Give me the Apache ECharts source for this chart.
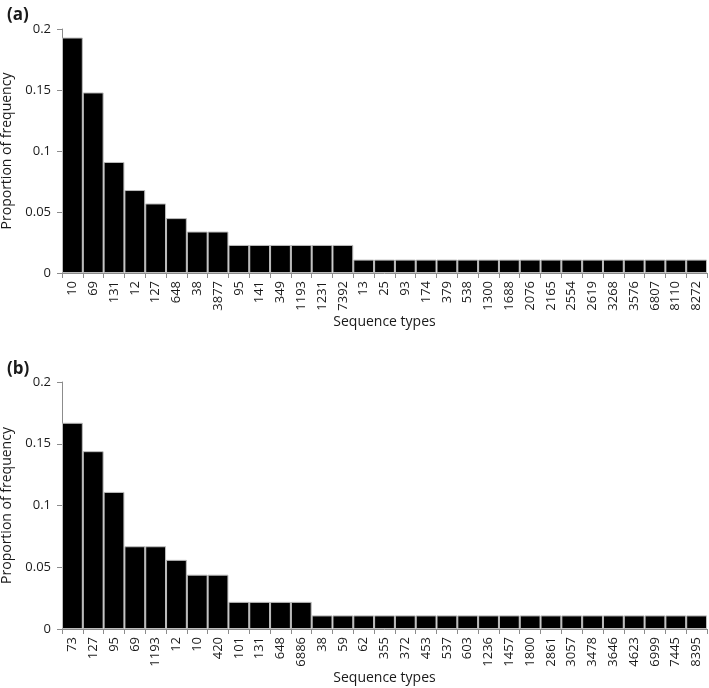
<!DOCTYPE html>
<html>
<head>
<meta charset="utf-8">
<script src="https://cdn.jsdelivr.net/npm/echarts@6/dist/echarts.min.js"></script>
<style>
html, body { margin: 0; padding: 0; background: #fff; }
#main { width: 709px; height: 688px; }
</style>
</head>
<body>
<div id="main"></div>
<script>
// panel (a)
var typesA = ['10', '69', '131', '12', '127', '648', '38', '3877', '95', '141', '349', '1193', '1231', '7392',
    '13', '25', '93', '174', '379', '538', '1300', '1688', '2076', '2165', '2554', '2619', '3268', '3576', '6807', '8110', '8272'];
var propA = [0.193, 0.148, 0.091, 0.068, 0.057, 0.045, 0.034, 0.034, 0.023, 0.023, 0.023, 0.023, 0.023, 0.023,
    0.011, 0.011, 0.011, 0.011, 0.011, 0.011, 0.011, 0.011, 0.011, 0.011, 0.011, 0.011, 0.011, 0.011, 0.011, 0.011, 0.011];

// panel (b)
var typesB = ['73', '127', '95', '69', '1193', '12', '10', '420', '101', '131', '648', '6886', '38', '59', '62',
    '355', '372', '453', '537', '603', '1236', '1457', '1800', '2861', '3057', '3478', '3646', '4623', '6999', '7445', '8395'];
var propB = [0.167, 0.144, 0.111, 0.067, 0.067, 0.056, 0.044, 0.044, 0.022, 0.022, 0.022, 0.022, 0.011, 0.011, 0.011,
    0.011, 0.011, 0.011, 0.011, 0.011, 0.011, 0.011, 0.011, 0.011, 0.011, 0.011, 0.011, 0.011, 0.011, 0.011, 0.011];

var yTicks = [0, 0.05, 0.1, 0.15, 0.2];

var chart = echarts.init(document.getElementById('main'));
var font = 'Open Sans';
var txt = '#1a1a1a';
var axisGray = '#8c8c8c';

function xAxisFor(idx, cats, gap) {
    return {
        type: 'category',
        gridIndex: idx,
        data: cats,
        name: 'Sequence types',
        nameLocation: 'middle',
        nameGap: gap,
        nameTextStyle: { fontFamily: font, fontSize: 14, color: txt },
        axisLine: { lineStyle: { color: axisGray, width: 1 } },
        axisTick: { show: true, length: 5, lineStyle: { color: axisGray } },
        axisLabel: { rotate: 90, interval: 0, fontFamily: font, fontSize: 13, color: txt, margin: 8 }
    };
}

function yAxisFor(idx) {
    return {
        type: 'value',
        gridIndex: idx,
        min: yTicks[0],
        max: yTicks[yTicks.length - 1],
        interval: 0.05,
        name: 'Proportion of frequency',
        nameLocation: 'middle',
        nameGap: 37,
        nameTextStyle: { fontFamily: font, fontSize: 14, color: txt },
        splitLine: { show: false },
        axisLine: { show: true, lineStyle: { color: axisGray, width: 1 } },
        axisTick: { show: true, length: 5, lineStyle: { color: axisGray } },
        axisLabel: { fontFamily: font, fontSize: 13, color: txt, margin: 11 }
    };
}

function barFor(idx, vals) {
    return {
        type: 'bar',
        xAxisIndex: idx,
        yAxisIndex: idx,
        data: vals,
        barCategoryGap: '0%',
        itemStyle: { color: '#000', borderColor: '#bdbdbd', borderWidth: 1 },
        silent: true
    };
}

option = {
    animation: false,
    backgroundColor: '#fff',
    title: [
        { text: '(a)', left: 2, top: 2, textStyle: { fontFamily: font, fontSize: 17, fontWeight: 'bold', color: txt } },
        { text: '(b)', left: 2, top: 356, textStyle: { fontFamily: font, fontSize: 17, fontWeight: 'bold', color: txt } }
    ],
    grid: [
        { left: 62, right: 2, top: 29, bottom: 415, outerBoundsMode: 'none' },
        { left: 62, right: 2, top: 382, bottom: 59, outerBoundsMode: 'none' }
    ],
    xAxis: [xAxisFor(0, typesA, 20), xAxisFor(1, typesB, 40)],
    yAxis: [yAxisFor(0), yAxisFor(1)],
    series: [barFor(0, propA), barFor(1, propB)]
};

chart.setOption(option);
window.addEventListener('resize', function () {
    chart.resize();
});
</script>
</body>
</html>
